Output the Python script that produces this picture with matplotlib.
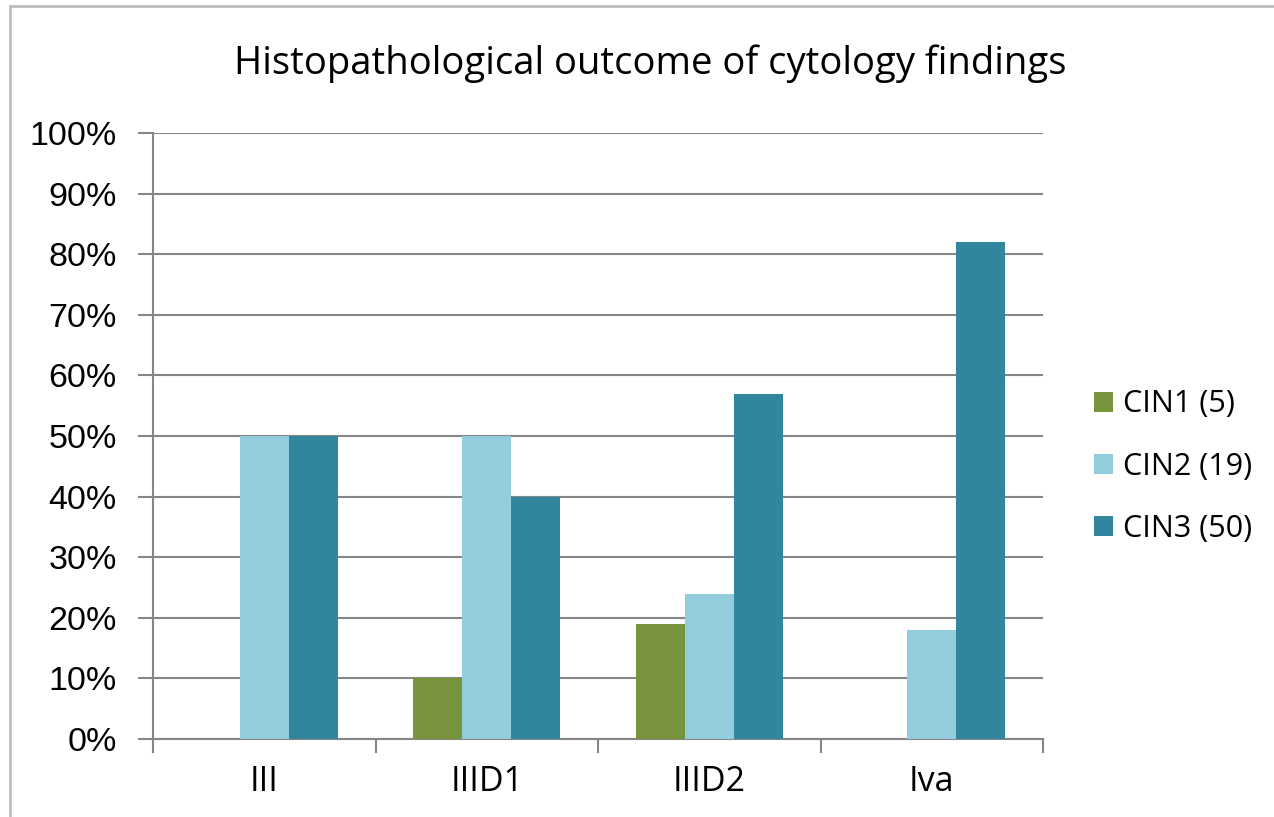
import matplotlib
matplotlib.use("Agg")
import matplotlib.pyplot as plt
import numpy as np
from matplotlib.lines import Line2D

categories = ["III", "IIID1", "IIID2", "Iva"]
series_names = ["CIN1 (5)", "CIN2 (19)", "CIN3 (50)"]
cin1 = [0, 10, 19, 0]
cin2 = [50, 50, 24, 18]
cin3 = [50, 40, 57, 82]
colors = ["#77933C", "#93CDDD", "#31859C"]
yticks = [0, 10, 20, 30, 40, 50, 60, 70, 80, 90, 100]
ytick_labels = [f"{v}%" for v in yticks]
title = "Histopathological outcome of cytology findings"

W, H = 1274, 817
fig = plt.figure(figsize=(W / 100, H / 100), dpi=100)
ax = fig.add_axes([153 / W, 1 - 739 / H, (1043 - 153) / W, (739 - 133) / H])

x = np.arange(len(categories))
bw = 0.22
series = [cin1, cin2, cin3]
for i, (vals, c, name) in enumerate(zip(series, colors, series_names)):
    ax.bar(x + (i - 1) * bw, vals, width=bw, color=c, label=name, zorder=3)

ax.set_xlim(-0.5, len(categories) - 0.5)
ax.set_ylim(0, 100)
ax.set_yticks(yticks)
ax.set_yticklabels(ytick_labels, fontsize=24.5, family="Liberation Sans")
ax.yaxis.grid(True, color="#868686", linewidth=1.5, zorder=0)
ax.set_axisbelow(True)

# x ticks at category boundaries, labels at centers
ax.set_xticks(np.arange(-0.5, len(categories), 1.0))
ax.set_xticklabels([])
ax.set_xticks(x, minor=True)
ax.set_xticklabels(categories, minor=True, fontsize=24.5, family="Open Sans")
ax.tick_params(axis="x", which="minor", length=0, pad=19)
ax.tick_params(axis="x", which="major", length=10, width=1.5, color="#868686", direction="out")
ax.tick_params(axis="y", length=11, width=1.5, color="#868686", direction="out", pad=15)

for s in ["top", "right"]:
    ax.spines[s].set_visible(False)
for s in ["left", "bottom"]:
    ax.spines[s].set_color("#868686")
    ax.spines[s].set_linewidth(1.5)

fig.text(650 / W, 1 - 64 / H, title, ha="center", va="center", fontsize=27.5, family="Open Sans")

leg = fig.legend(loc="upper left", bbox_to_anchor=(1066 / W, 1 - 362 / H), frameon=False,
                 prop={"family": "Open Sans", "size": 22}, handlelength=0.65, handleheight=0.65,
                 handletextpad=0.3, labelspacing=1.05)

# outer frame (left and top lines)
fig.add_artist(Line2D([10 / W, 10 / W], [0, 1 - 6 / H], transform=fig.transFigure, color="#BFBFBF", linewidth=2))
fig.add_artist(Line2D([10 / W, 1], [1 - 6 / H, 1 - 6 / H], transform=fig.transFigure, color="#BFBFBF", linewidth=2))

fig.savefig("out.png", dpi=100)
